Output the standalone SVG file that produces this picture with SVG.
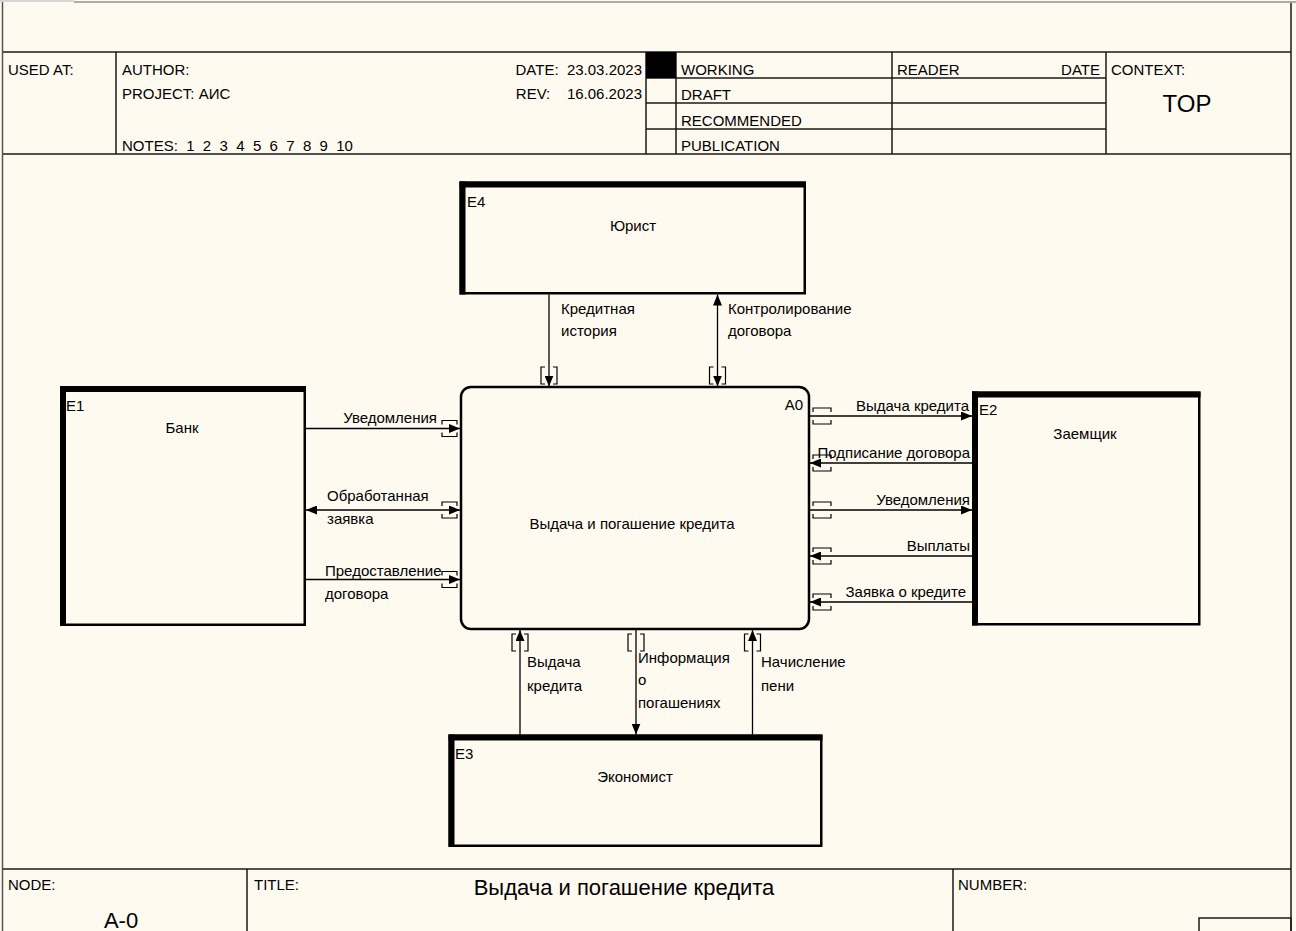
<svg xmlns="http://www.w3.org/2000/svg" width="1296" height="931" viewBox="0 0 1296 931">
<defs>
<style>
.t{font-family:"Liberation Sans",Arial,sans-serif;font-size:15px;fill:#000}
.big{font-size:22px}
.ln{stroke:#1a1a1a;stroke-width:1.5;fill:none}
.c{stroke:#000;stroke-width:1.3;fill:none}
.tn{stroke:#000;stroke-width:1.2;fill:none}
.box{fill:#FFFAF0;stroke:#000;stroke-width:2.5}
.thk{fill:#000}
</style>
<marker id="ah" viewBox="0 0 11 9" refX="11" refY="4.5" markerWidth="11" markerHeight="9" markerUnits="userSpaceOnUse" orient="auto-start-reverse">
<path d="M0,0 L11,4.5 L0,9 z" fill="#000"/>
</marker>
</defs>
<rect x="0" y="0" width="1296" height="931" fill="#FFFAF0"/>
<g id="frame">
<rect x="0" y="0" width="74" height="2" fill="#d6d6d6"/>
<line x1="74" y1="2" x2="1296" y2="2" stroke="#909090" stroke-width="1.5"/>
<line x1="2.5" y1="2" x2="2.5" y2="931" stroke="#555" stroke-width="1.5"/>
<line x1="1291" y1="3" x2="1291" y2="931" class="ln"/>
<line x1="3" y1="52" x2="1291" y2="52" class="ln"/>
<line x1="3" y1="154" x2="1291" y2="154" class="ln"/>
<line x1="116" y1="52" x2="116" y2="154" class="ln"/>
<line x1="646" y1="52" x2="646" y2="154" class="ln"/>
<line x1="676" y1="52" x2="676" y2="154" class="ln"/>
<line x1="892" y1="52" x2="892" y2="154" class="ln"/>
<line x1="1106" y1="52" x2="1106" y2="154" class="ln"/>
<line x1="646" y1="78" x2="1106" y2="78" class="ln"/>
<line x1="646" y1="103" x2="1106" y2="103" class="ln"/>
<line x1="646" y1="129" x2="1106" y2="129" class="ln"/>
<rect x="646" y="52" width="30" height="26" fill="#000"/>
<text class="t" x="8" y="75">USED AT:</text>
<text class="t" x="122" y="75">AUTHOR:</text>
<text class="t" x="122" y="99">PROJECT:  АИС</text>
<text class="t" x="122" y="151" xml:space="preserve">NOTES:  1  2  3  4  5  6  7  8  9  10</text>
<text class="t" x="642" y="75" text-anchor="end" xml:space="preserve">DATE:  23.03.2023</text>
<text class="t" x="642" y="99" text-anchor="end" xml:space="preserve">REV:    16.06.2023</text>
<text class="t" x="681" y="75">WORKING</text>
<text class="t" x="681" y="100">DRAFT</text>
<text class="t" x="681" y="126">RECOMMENDED</text>
<text class="t" x="681" y="151">PUBLICATION</text>
<text class="t" x="897" y="75">READER</text>
<text class="t" x="1100" y="75" text-anchor="end">DATE</text>
<text class="t" x="1111" y="75">CONTEXT:</text>
<text class="t" x="1187" y="112" text-anchor="middle" style="font-size:24px">TOP</text>
<line x1="3" y1="869" x2="1291" y2="869" class="ln"/>
<line x1="247" y1="869" x2="247" y2="931" class="ln"/>
<line x1="953" y1="869" x2="953" y2="931" class="ln"/>
<rect x="1199" y="918" width="92" height="20" class="ln"/>
<text class="t" x="8" y="890">NODE:</text>
<text class="t big" x="121" y="928" text-anchor="middle">A-0</text>
<text class="t" x="254" y="890">TITLE:</text>
<text class="t big" x="624" y="895" text-anchor="middle">Выдача и погашение кредита</text>
<text class="t" x="958" y="890">NUMBER:</text>
</g>
<g id="connectors">
<path class="c" d="M306,428.5 H460" marker-end="url(#ah)"/>
<path class="c" d="M306,510 H460" marker-start="url(#ah)" marker-end="url(#ah)"/>
<path class="c" d="M306,579.5 H460" marker-end="url(#ah)"/>
<path class="c" d="M810,416 H972" marker-end="url(#ah)"/>
<path class="c" d="M972,463 H810" marker-end="url(#ah)"/>
<path class="c" d="M810,510 H972" marker-end="url(#ah)"/>
<path class="c" d="M972,556 H810" marker-end="url(#ah)"/>
<path class="c" d="M972,602 H810" marker-end="url(#ah)"/>
<path class="c" d="M549,294.5 V386.5" marker-end="url(#ah)"/>
<path class="c" d="M717.5,294.5 V386.5" marker-start="url(#ah)" marker-end="url(#ah)"/>
<path class="c" d="M520,734.5 V630" marker-end="url(#ah)"/>
<path class="c" d="M636,630 V734.5" marker-end="url(#ah)"/>
<path class="c" d="M752.5,734.5 V630" marker-end="url(#ah)"/>
<path class="tn" d="M442,424.5 V420.5 H457 V424.5 M442,432.5 V436.5 H457 V432.5"/>
<path class="tn" d="M442,506 V502 H457 V506 M442,514 V518 H457 V514"/>
<path class="tn" d="M442,575.5 V571.5 H457 V575.5 M442,583.5 V587.5 H457 V583.5"/>
<path class="tn" d="M813,412 V408 H831 V412 M813,420 V424 H831 V420"/>
<path class="tn" d="M813,459 V455 H831 V459 M813,467 V471 H831 V467"/>
<path class="tn" d="M813,506 V502 H831 V506 M813,514 V518 H831 V514"/>
<path class="tn" d="M813,552 V548 H831 V552 M813,560 V564 H831 V560"/>
<path class="tn" d="M813,598 V594 H831 V598 M813,606 V610 H831 V606"/>
<path class="tn" d="M545,367 H541 V384 H545 M553,367 H557 V384 H553"/>
<path class="tn" d="M713.5,367 H709.5 V384 H713.5 M721.5,367 H725.5 V384 H721.5"/>
<path class="tn" d="M516,634 H512 V651 H516 M524,634 H528 V651 H524"/>
<path class="tn" d="M632,634 H628 V651 H632 M640,634 H644 V651 H640"/>
<path class="tn" d="M748.5,634 H744.5 V651 H748.5 M756.5,634 H760.5 V651 H756.5"/>
<text class="t" x="437" y="423" text-anchor="end">Уведомления</text>
<text class="t" x="327" y="501">Обработанная</text>
<text class="t" x="327" y="524">заявка</text>
<text class="t" x="325" y="576">Предоставление</text>
<text class="t" x="325" y="599">договора</text>
<text class="t" x="969" y="411" text-anchor="end">Выдача кредита</text>
<text class="t" x="970" y="458" text-anchor="end">Подписание договора</text>
<text class="t" x="970" y="505" text-anchor="end">Уведомления</text>
<text class="t" x="970" y="551" text-anchor="end">Выплаты</text>
<text class="t" x="966" y="597" text-anchor="end">Заявка о кредите</text>
<text class="t" x="561" y="314">Кредитная</text>
<text class="t" x="561" y="336">история</text>
<text class="t" x="728" y="314">Контролирование</text>
<text class="t" x="728" y="336">договора</text>
<text class="t" x="527" y="667">Выдача</text>
<text class="t" x="527" y="691">кредита</text>
<text class="t" x="638" y="663">Информация</text>
<text class="t" x="638" y="685">о</text>
<text class="t" x="638" y="708">погашениях</text>
<text class="t" x="761" y="667">Начисление</text>
<text class="t" x="761" y="691">пени</text>
</g>
<g id="A0">
<rect class="box" x="461" y="387" width="348" height="242" rx="10" ry="10"/>
<text class="t" x="803" y="410" text-anchor="end">A0</text>
<text class="t" x="632" y="529" text-anchor="middle">Выдача и погашение кредита</text>
</g>
<g id="E4">
<rect class="box" x="460.75" y="182.75" width="344" height="110.5"/>
<rect class="thk" x="459.5" y="181.5" width="346.5" height="6"/>
<rect class="thk" x="459.5" y="181.5" width="6" height="113"/>
<text class="t" x="467" y="207">E4</text>
<text class="t" x="633" y="231" text-anchor="middle">Юрист</text>
</g>
<g id="E1">
<rect class="box" x="61.25" y="387.25" width="243.5" height="237.5"/>
<rect class="thk" x="60" y="386" width="246" height="6"/>
<rect class="thk" x="60" y="386" width="6" height="240"/>
<text class="t" x="66" y="411">E1</text>
<text class="t" x="182" y="433" text-anchor="middle">Банк</text>
</g>
<g id="E2">
<rect class="box" x="973.25" y="392.75" width="226" height="231.5"/>
<rect class="thk" x="972" y="391.5" width="228.5" height="6"/>
<rect class="thk" x="972" y="391.5" width="6" height="234"/>
<text class="t" x="979" y="415">E2</text>
<text class="t" x="1085" y="439" text-anchor="middle">Заемщик</text>
</g>
<g id="E3">
<rect class="box" x="449.75" y="735.75" width="371.5" height="110"/>
<rect class="thk" x="448.5" y="734.5" width="374" height="6"/>
<rect class="thk" x="448.5" y="734.5" width="6" height="112.5"/>
<text class="t" x="455" y="759">E3</text>
<text class="t" x="635" y="782" text-anchor="middle">Экономист</text>
</g>
</svg>
